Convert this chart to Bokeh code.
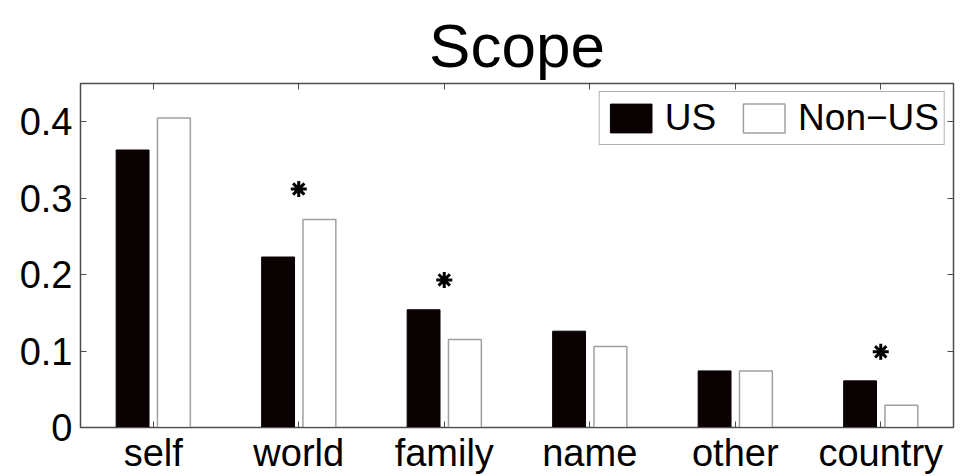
from bokeh.plotting import figure
from bokeh.models import (ColumnDataSource, LinearAxis, FixedTicker, Range1d,
                          Legend, LegendItem)
from bokeh.embed import file_html
from bokeh.resources import INLINE

# ---- data ----
categories = ["self", "world", "family", "name", "other", "country"]
us_values = [0.363, 0.223, 0.154, 0.126, 0.074, 0.061]
non_us_values = [0.405, 0.272, 0.115, 0.106, 0.074, 0.029]
sig_categories = ["world", "family", "country"]
sig_heights = [0.312, 0.193, 0.099]
y_ticks = [0, 0.1, 0.2, 0.3, 0.4]
y_tick_labels = ["0", "0.1", "0.2", "0.3", "0.4"]
title_text = "Scope"

FONT = "Liberation Sans"
AX = "#4d4d4d"

xpos = [i + 1 for i in range(len(categories))]
off = 0.142
bw = 0.226

src = ColumnDataSource(dict(
    x_us=[x - off for x in xpos], x_non=[x + off for x in xpos],
    us=us_values, non=non_us_values))
sig_x = [categories.index(c) + 1 for c in sig_categories]
sig_src = ColumnDataSource(dict(x=sig_x, y=sig_heights))

p = figure(width=958, height=476, output_backend="svg", toolbar_location=None,
           x_range=Range1d(0.5, 6.5), y_range=Range1d(0, 0.45),
           min_border_left=80, min_border_right=5, min_border_top=83,
           min_border_bottom=48)

p.title.text = title_text
p.title.text_font = FONT
p.title.text_font_size = "62px"
p.title.text_font_style = "normal"
p.title.text_color = "black"
p.title.align = "center"
p.title.offset = 0
p.title.standoff = 7

p.xgrid.visible = False
p.ygrid.visible = False
p.outline_line_color = AX
p.outline_line_width = 1.5
p.background_fill_color = "white"
p.border_fill_color = "white"

r_us = p.vbar(x="x_us", top="us", width=bw, source=src,
              fill_color="#0a0202", line_color="#0a0202", line_width=1)
r_non = p.vbar(x="x_non", top="non", width=bw, source=src,
               fill_color="white", line_color="#a0a0a0", line_width=1.5)

p.scatter(x="x", y="y", source=sig_src, marker="asterisk", size=16,
          line_color="black", line_width=3)

# bottom axis
xa = p.xaxis[0]
xa.ticker = FixedTicker(ticks=xpos)
xa.major_label_overrides = {x: c for x, c in zip(xpos, categories)}
xa.major_label_text_font = FONT
xa.major_label_text_font_size = "38px"
xa.major_label_text_color = "black"
xa.major_tick_in = 6
xa.major_tick_out = 0
xa.minor_tick_line_color = None
xa.axis_line_color = AX
xa.major_tick_line_color = AX
xa.major_label_standoff = 4

ya = p.yaxis[0]
ya.ticker = FixedTicker(ticks=y_ticks)
ya.major_label_overrides = {t: l for t, l in zip(y_ticks, y_tick_labels)}
ya.major_label_text_font = FONT
ya.major_label_text_font_size = "38px"
ya.major_label_text_color = "black"
ya.major_tick_in = 6
ya.major_tick_out = 0
ya.minor_tick_line_color = None
ya.axis_line_color = AX
ya.major_tick_line_color = AX
ya.major_label_standoff = 8

# box-style ticks on top and right (no labels)
top = LinearAxis(ticker=FixedTicker(ticks=xpos), major_label_text_color=None,
                 major_label_text_font_size="1px",
                 major_tick_in=6, major_tick_out=0, minor_tick_line_color=None,
                 axis_line_color=AX, major_tick_line_color=AX, major_label_standoff=0)
right = LinearAxis(ticker=FixedTicker(ticks=y_ticks), major_label_text_color=None,
                   major_label_text_font_size="1px",
                   major_tick_in=6, major_tick_out=0, minor_tick_line_color=None,
                   axis_line_color=AX, major_tick_line_color=AX, major_label_standoff=0)
p.add_layout(top, "above")
p.add_layout(right, "right")

legend = Legend(items=[LegendItem(label="US", renderers=[r_us]),
                       LegendItem(label="Non\u2212US", renderers=[r_non])],
                orientation="horizontal", location="top_right")
legend.label_text_font = FONT
legend.label_text_font_size = "37px"
legend.label_text_color = "black"
legend.glyph_width = 52
legend.glyph_height = 36
legend.label_height = 36
legend.label_standoff = 8
legend.spacing = 22
legend.padding = 5
legend.margin = 8
legend.border_line_color = "#666666"
legend.border_line_width = 1.5
legend.background_fill_alpha = 1
p.add_layout(legend, "center")

open("out.html", "w").write(file_html(p, INLINE))
